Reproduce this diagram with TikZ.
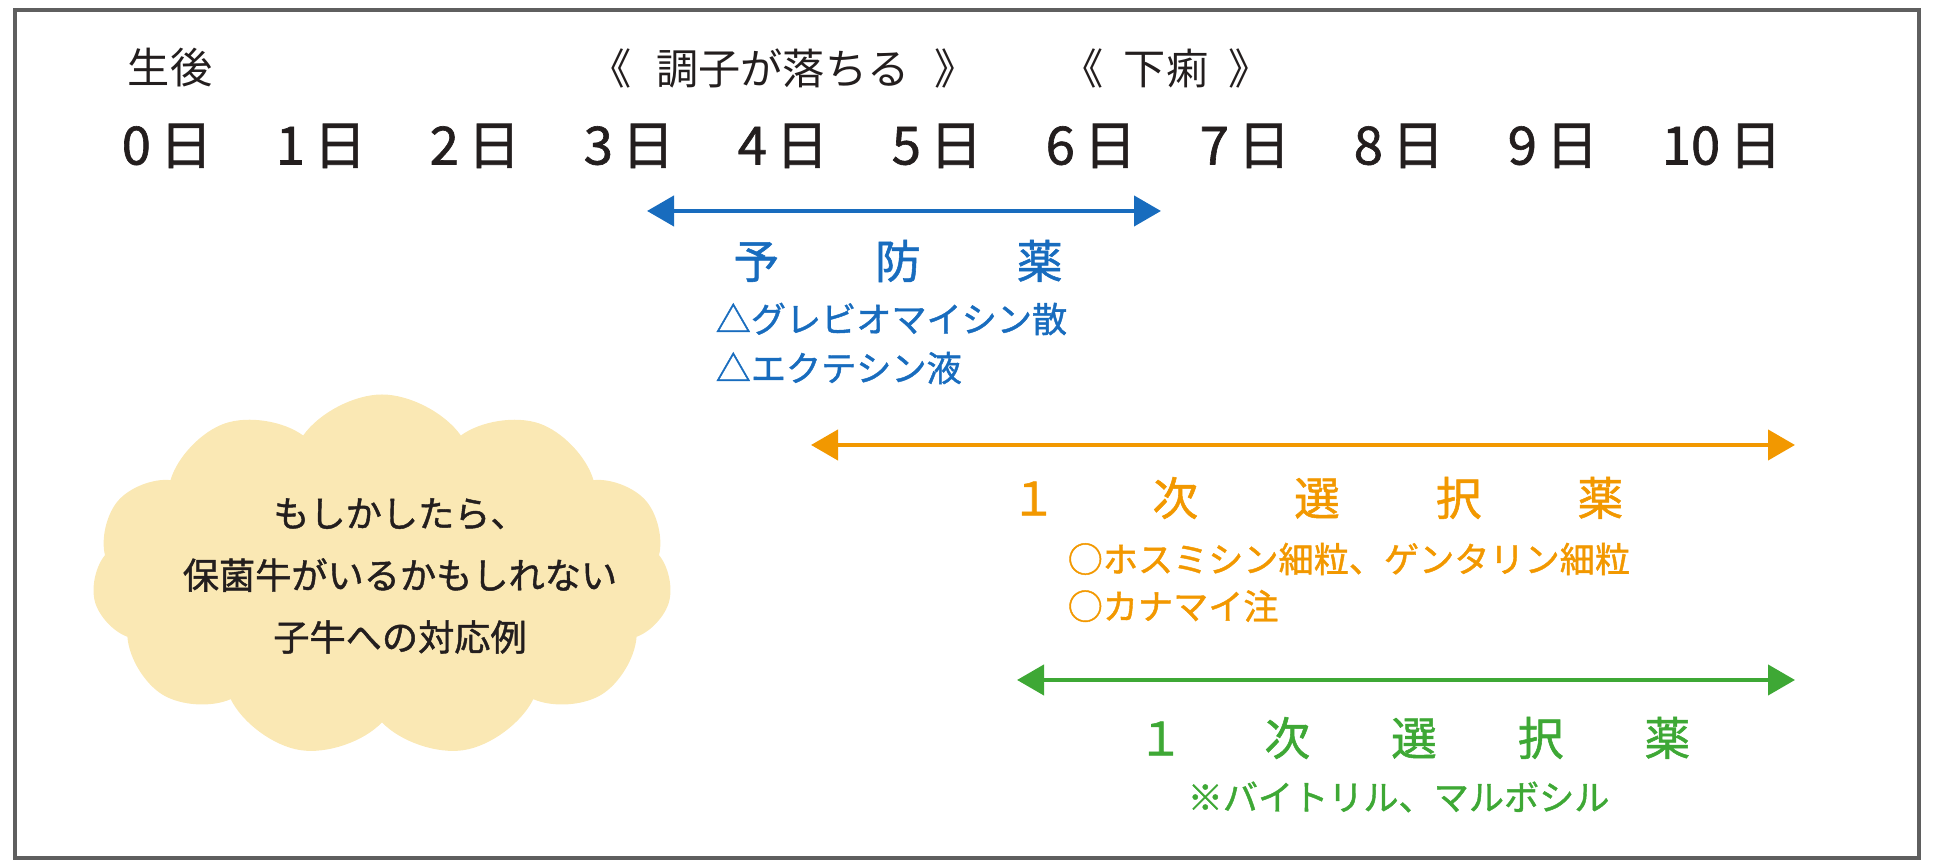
\documentclass[tikz,border=0pt]{standalone}
\usepackage{fontspec}
\setmainfont{Noto Sans CJK JP}
\newfontfamily\medjp{Noto Sans CJK JP}[FakeBold=1.2]
\usetikzlibrary{arrows.meta,shapes.symbols,positioning}

\definecolor{inkblack}{RGB}{35,30,30}
\definecolor{framegray}{RGB}{95,95,95}
\definecolor{prevblue}{RGB}{24,108,190}
\definecolor{firstorange}{RGB}{242,152,0}
\definecolor{secondgreen}{RGB}{62,168,53}
\definecolor{cloudfill}{RGB}{250,232,180}

\tikzset{
    span/.style={line width=1.2pt, {Triangle[length=0.27cm,width=0.3cm]}-{Triangle[length=0.27cm,width=0.3cm]}},
    head/.style={font=\fontsize{12}{14}\selectfont, text=inkblack},
    daylabel/.style={anchor=west, inner sep=0pt, font=\medjp\fontsize{15}{17}\selectfont, text=inkblack},
    title/.style={font=\medjp\fontsize{13}{15}\selectfont},
    drug/.style={anchor=west, inner sep=0pt, font=\medjp\fontsize{10}{12}\selectfont},
}

\begin{document}
\begin{tikzpicture}

    \useasboundingbox (0,0) rectangle (19.34,8.61);

    % frame
    \draw[framegray, line width=1pt] (0.15,0.03) rectangle (19.19,8.51);

    % header
    \node[head] (born) at (1.70,7.93) {生後};
    \node[head] (slump) at (7.83,7.93) {《\hspace{0.25cm}調子が落ちる\hspace{0.25cm}》};
    \node[head] (diarrhea) at (11.66,7.93) {《\hspace{0.2cm}下痢\hspace{0.2cm}》};

    % days
    \foreach \d in {0,...,10}
        \node[daylabel] (day\d) at (1.21+1.54*\d,7.15) {\d\,日};

    % preventive drugs
    \coordinate (prevL) at (6.47,6.50);
    \coordinate (prevR) at (11.61,6.50);
    \draw[span, prevblue] (prevL) -- (prevR);
    \node[title, text=prevblue] (prev) at (8.98,6.00) {予\hspace{0.96cm}防\hspace{0.96cm}薬};
    \node[drug, text=prevblue] (prevA) at (7.15,5.42) {△グレビオマイシン散};
    \node[drug, text=prevblue] (prevB) at (7.15,4.93) {△エクテシン液};

    % first choice (orange)
    \coordinate (firstL) at (8.11,4.16);
    \coordinate (firstR) at (17.95,4.16);
    \draw[span, firstorange] (firstL) -- (firstR);
    \node[title, text=firstorange] (first) at (13.17,3.63) {１\hspace{0.96cm}次\hspace{0.96cm}選\hspace{0.96cm}択\hspace{0.96cm}薬};
    \node[drug, text=firstorange] (firstA) at (10.67,3.02) {○ホスミシン細粒、ゲンタリン細粒};
    \node[drug, text=firstorange] (firstB) at (10.67,2.55) {○カナマイ注};

    % first choice (green)
    \coordinate (secL) at (10.17,1.81);
    \coordinate (secR) at (17.95,1.81);
    \draw[span, secondgreen] (secL) -- (secR);
    \node[title, text=secondgreen] (sec) at (14.14,1.23) {１\hspace{0.81cm}次\hspace{0.81cm}選\hspace{0.81cm}択\hspace{0.81cm}薬};
    \node[drug, text=secondgreen] (secA) at (11.87,0.64) {※バイトリル、マルボシル};

    % cloud
    \node[cloud, cloud puffs=11, cloud puff arc=110, aspect=1.6, fill=cloudfill,
          minimum width=5.8cm, minimum height=3.63cm] (bubble) at (3.82,2.85) {};
    \node[align=center, font=\medjp\fontsize{10.3}{17.6}\selectfont, text=inkblack]
        (bubbletext) at (4.0,2.85) {もしかしたら、\\保菌牛がいるかもしれない\\子牛への対応例};

\end{tikzpicture}
\end{document}
